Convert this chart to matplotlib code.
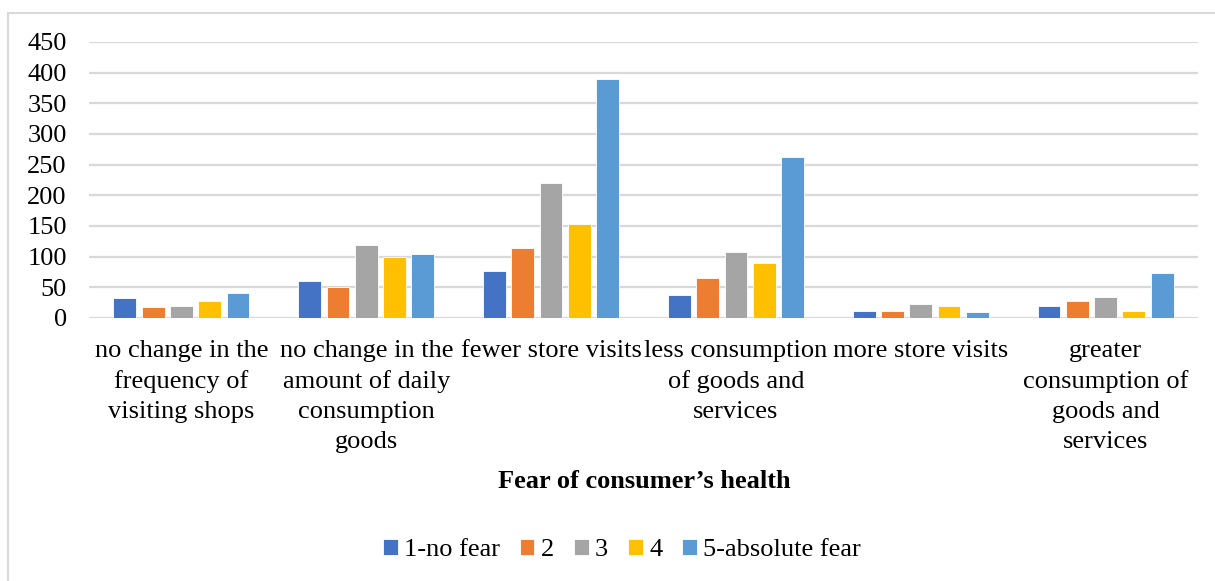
import numpy as np
import matplotlib.pyplot as plt
from matplotlib.lines import Line2D

# data
categories = [
    "no change in the\nfrequency of\nvisiting shops",
    "no change in the\namount of daily\nconsumption\ngoods",
    "fewer store visits",
    "less consumption\nof goods and\nservices",
    "more store visits",
    "greater\nconsumption of\ngoods and\nservices",
]
series_names = ["1-no fear", "2", "3", "4", "5-absolute fear"]
no_fear = [32, 61, 76, 38, 11, 20]
fear_2 = [18, 50, 114, 65, 11, 28]
fear_3 = [20, 119, 220, 108, 23, 35]
fear_4 = [28, 100, 153, 90, 20, 11]
absolute_fear = [41, 105, 390, 262, 9, 74]
yticks = [0, 50, 100, 150, 200, 250, 300, 350, 400, 450]

colors = ["#4472C4", "#ED7D31", "#A5A5A5", "#FFC000", "#5B9BD5"]
values = [no_fear, fear_2, fear_3, fear_4, absolute_fear]

plt.rcParams["font.family"] = ["Liberation Serif", "DejaVu Serif"]

W, H = 1215, 581
fig = plt.figure(figsize=(W / 100, H / 100), dpi=100)
ax = fig.add_axes([89 / W, 1 - 318 / H, (1198 - 89) / W, (318 - 42) / H])

x = np.arange(len(categories))
width = 0.123
step = 0.153
for i, (vals, c, name) in enumerate(zip(values, colors, series_names)):
    ax.bar(x + (i - 2) * step, vals, width, color=c, label=name,
           edgecolor="white", linewidth=0.6, zorder=3)

ax.set_xlim(-0.5, len(categories) - 0.5)
ax.set_ylim(0, 450)
ax.set_yticks(yticks)
ax.set_yticklabels([str(t) for t in yticks], fontsize=19)
ax.yaxis.grid(True, color="#D9D9D9", linewidth=1.6, zorder=0)
ax.set_axisbelow(True)
for s in ax.spines.values():
    s.set_visible(False)
ax.tick_params(axis="y", length=0, pad=16)
ax.tick_params(axis="x", length=0, pad=16)
ax.set_xticks(x)
ax.set_xticklabels(categories, fontsize=19, linespacing=1.46)

fig.text(644 / W, 1 - 481 / H, "Fear of consumer\u2019s health",
         fontsize=19, fontweight="bold", ha="center", va="center")

fig.legend(loc="center", bbox_to_anchor=(622 / W, 1 - 550 / H), ncol=5,
           frameon=False, fontsize=19, handlelength=0.55, handleheight=0.55,
           handletextpad=0.25, columnspacing=0.75, borderaxespad=0)

# chart-area border (left and top visible in the reference)
fig.add_artist(Line2D([8 / W, 8 / W], [0, 1 - 13 / H], color="#D9D9D9",
                      linewidth=1.5, transform=fig.transFigure))
fig.add_artist(Line2D([8 / W, 1], [1 - 13 / H, 1 - 13 / H], color="#D9D9D9",
                      linewidth=1.5, transform=fig.transFigure))

fig.savefig("out.png", dpi=100, facecolor="white")
